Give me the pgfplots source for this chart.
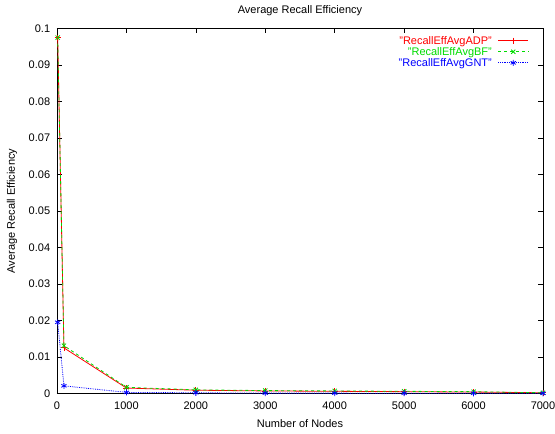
\documentclass[border=0pt]{standalone}
\usepackage{pgfplots}
\pgfplotsset{compat=1.18}
\usepackage{fontspec}
\setmainfont{Liberation Sans}
\definecolor{gpred}{RGB}{255,0,0}
\definecolor{gpgreen}{RGB}{0,220,0}
\definecolor{gpblue}{RGB}{0,0,255}
\newcommand{\legimg}[1]{\hspace{6bp}\tikz[baseline=-0.6ex]{\draw[#1, line width=0.8bp, mark size=3bp, mark options={solid}, mark repeat=2, mark phase=2] plot coordinates {(0bp,0bp) (15bp,0bp) (30bp,0bp)};}}
\begin{document}
\fontsize{11bp}{12bp}\selectfont
\begin{tikzpicture}
\useasboundingbox (-57bp,-40.5bp) rectangle (498bp,393.5bp);
\begin{axis}[
  at={(0,0)}, anchor=south west,
  scale only axis, width=486bp, height=365bp,
  xmin=0, xmax=7000, ymin=0, ymax=0.1,
  axis line style={line width=0.8bp},
  xtick={0,1000,2000,3000,4000,5000,6000,7000},
  xticklabels={0,1000,2000,3000,4000,5000,6000,7000},
  ytick={0,0.01,0.02,0.03,0.04,0.05,0.06,0.07,0.08,0.09,0.1},
  yticklabels={0,0.01,0.02,0.03,0.04,0.05,0.06,0.07,0.08,0.09,0.1},
  tick align=inside, major tick length=5bp,
  tick style={black, line width=0.6bp},
  /pgf/number format/assume math mode=true,
  ticklabel style={font=\fontsize{11bp}{12bp}\selectfont},
  xticklabel style={anchor=center, yshift=-12bp},
  xticklabel shift=0pt,
  yticklabel style={anchor=east, xshift=-3bp},
  title={Average Recall Efficiency},
  title style={at={(axis description cs:0.5,1)}, anchor=center, yshift=11.5bp, font=\fontsize{11bp}{12bp}\selectfont},
  xlabel={Number of Nodes},
  xlabel style={at={(axis description cs:0.5,0)}, anchor=center, yshift=-30bp, font=\fontsize{11bp}{12bp}\selectfont},
  ylabel={Average Recall Efficiency},
  ylabel style={at={(axis description cs:0,0.5)}, anchor=center, yshift=45bp, font=\fontsize{11bp}{12bp}\selectfont},
  legend plot pos=none,
  legend cell align=right,
  legend style={draw=none, fill=none, at={(axis description cs:0.975,0.985)}, anchor=north east,
    font=\fontsize{11bp}{12bp}\selectfont, row sep=-2.5bp, inner sep=0pt},
]
\addplot[gpred, line width=0.8bp, mark=+, mark size=3bp, mark options={solid}] coordinates {
(10,0.0975) (100,0.0125) (1000,0.0015) (2000,0.0009) (3000,0.0007) (4000,0.0006) (5000,0.0005) (6000,0.0004) (7000,0.0002)};
\addlegendentry{\textcolor{gpred}{"RecallEffAvgADP"}\legimg{gpred,solid,mark=+}}
\addplot[gpgreen, line width=0.8bp, dashed, mark=x, mark size=3bp, mark options={solid}] coordinates {
(10,0.0975) (100,0.0131) (1000,0.0017) (2000,0.001) (3000,0.0008) (4000,0.0007) (5000,0.0006) (6000,0.0005) (7000,0.0002)};
\addlegendentry{\textcolor{gpgreen}{"RecallEffAvgBF"}\legimg{gpgreen,dashed,mark=x}}
\addplot[gpblue, line width=0.8bp, densely dotted, mark=asterisk, mark size=3bp, mark options={solid}] coordinates {
(10,0.0195) (100,0.0021) (1000,0.0003) (2000,0.0002) (3000,0.0001) (4000,0.0001) (5000,0.00008) (6000,0.00006) (7000,0.00005)};
\addlegendentry{\textcolor{gpblue}{"RecallEffAvgGNT"}\legimg{gpblue,densely dotted,mark=asterisk}}
\end{axis}
\end{tikzpicture}
\end{document}
